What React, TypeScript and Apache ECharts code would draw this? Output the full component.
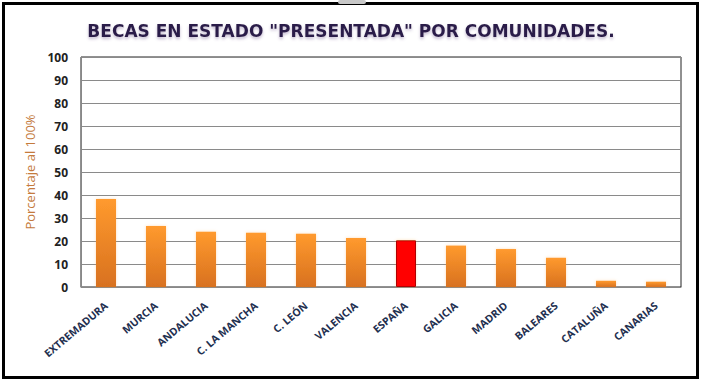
import React, { useEffect, useRef } from "react";
import * as echarts from "echarts";

const categories = [
  "EXTREMADURA", "MURCIA", "ANDALUCIA", "C. LA MANCHA", "C. LEÓN", "VALENCIA",
  "ESPAÑA", "GALICIA", "MADRID", "BALEARES", "CATALUÑA", "CANARIAS",
];
const values = [38.3, 26.5, 24.0, 23.6, 23.2, 21.3, 20.3, 18.0, 16.5, 12.7, 2.7, 2.3];
const highlight = "ESPAÑA";
const yTicks = { min: 0, max: 100, interval: 10 };
const titleText = 'BECAS EN ESTADO "PRESENTADA" POR COMUNIDADES.';
const yName = "Porcentaje al 100%";

export default function App() {
  const ref = useRef<HTMLDivElement>(null);
  useEffect(() => {
    if (!ref.current) return;
    const chart = echarts.init(ref.current, null, { renderer: "svg" });
    const orange = new echarts.graphic.LinearGradient(0, 0, 0, 1, [
      { offset: 0, color: "#ff9a2e" },
      { offset: 1, color: "#d8711f" },
    ]);
    chart.setOption({
      animation: false,
      backgroundColor: "#ffffff",
      title: {
        text: titleText,
        left: "center",
        top: 17,
        textStyle: {
          fontFamily: "DejaVu Sans",
          fontWeight: "bold",
          fontSize: 17,
          color: "#2b1d48",
          textShadowColor: "rgba(120,100,150,0.45)",
          textShadowBlur: 3,
          textShadowOffsetY: 2,
        },
      },
      graphic: [
        {
          type: "rect",
          shape: { x: 3.5, y: 3.5, width: 694, height: 374 },
          style: { fill: "none", stroke: "#000", lineWidth: 3 },
          silent: true,
        },
        {
          type: "rect",
          shape: { x: 338, y: 0, width: 28, height: 4, r: 2 },
          style: { fill: "#c8c8c8" },
          silent: true,
        },
      ],
      grid: { left: 81, right: 21, top: 57, bottom: 98, show: true, borderColor: "#222", borderWidth: 1 },
      xAxis: {
        type: "category",
        data: categories,
        axisTick: { show: false },
        axisLine: { lineStyle: { color: "#888" } },
        axisLabel: {
          interval: 0,
          rotate: 40,
          margin: 17,
          fontFamily: "Open Sans",
          fontWeight: "bold",
          fontSize: 10.5,
          color: "#1f3050",
        },
      },
      yAxis: {
        type: "value",
        min: yTicks.min,
        max: yTicks.max,
        interval: yTicks.interval,
        name: yName,
        nameLocation: "middle",
        nameGap: 42,
        nameTextStyle: { fontFamily: "Open Sans", fontSize: 13, color: "#c47a3c" },
        axisLine: { show: true, lineStyle: { color: "#888" } },
        axisTick: { show: false },
        splitLine: { lineStyle: { color: "#8a8a8a" } },
        axisLabel: {
          margin: 13,
          fontFamily: "Open Sans",
          fontWeight: "bold",
          fontSize: 12,
          color: "#222",
        },
      },
      series: [
        {
          type: "bar",
          barWidth: "40%",
          data: values.map((v, i) =>
            categories[i] === highlight
              ? { value: v, itemStyle: { color: "#ff0000", borderColor: "#b00000", borderWidth: 1 } }
              : { value: v, itemStyle: { color: orange } }
          ),
          itemStyle: { shadowColor: "rgba(255,160,60,0.35)", shadowBlur: 3 },
        },
      ],
    });
    return () => chart.dispose();
  }, []);
  return <div ref={ref} style={{ width: 702, height: 385, position: "absolute", left: 0, top: 0 }} />;
}
